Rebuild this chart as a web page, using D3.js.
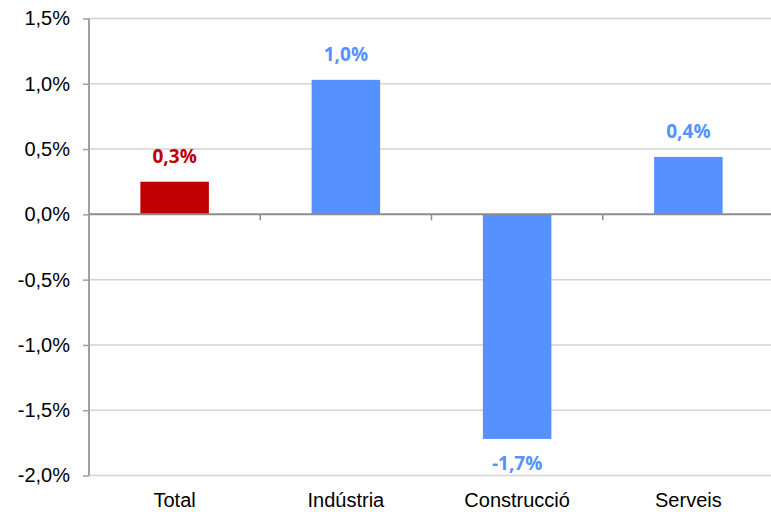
<!DOCTYPE html>
<html>
<head>
<meta charset="utf-8">
<script src="https://cdn.jsdelivr.net/npm/d3@7"></script>
<style>
  html, body { margin: 0; padding: 0; background: #ffffff; }
  svg { display: block; }
</style>
</head>
<body>
<svg id="chart" width="771" height="512"></svg>
<script>
// Variació per sectors (%)
const categories = ["Total", "Indústria", "Construcció", "Serveis"];
const values = [0.25, 1.03, -1.72, 0.44];
const barColors = ["#C00000", "#5591FF", "#5591FF", "#5591FF"];
const yTicks = [-2.0, -1.5, -1.0, -0.5, 0.0, 0.5, 1.0, 1.5];

const fmt = v => v.toFixed(1).replace(".", ",") + "%";

const svg = d3.select("#chart");

const x = d3.scaleBand()
  .domain(categories)
  .range([89, 774])
  .padding(0);

const y = d3.scaleLinear()
  .domain([-2.0, 1.5])
  .range([475.5, 18.5]);

const barW = x.bandwidth() * 0.4;

// horizontal gridlines
svg.append("g")
  .selectAll("line")
  .data(yTicks.filter(t => t !== 0))
  .join("line")
  .attr("x1", 89).attr("x2", 771)
  .attr("y1", d => y(d)).attr("y2", d => y(d))
  .attr("stroke", "#d3d3d3")
  .attr("stroke-width", 1.5);

// bars
svg.append("g")
  .selectAll("rect")
  .data(values)
  .join("rect")
  .attr("x", (d, i) => x(categories[i]) + (x.bandwidth() - barW) / 2)
  .attr("width", barW)
  .attr("y", d => y(Math.max(0, d)))
  .attr("height", d => Math.abs(y(d) - y(0)))
  .attr("fill", (d, i) => barColors[i]);

// y axis
const yAxis = d3.axisLeft(y)
  .tickValues(yTicks)
  .tickSize(6)
  .tickPadding(13)
  .tickFormat(fmt);

const gy = svg.append("g")
  .attr("transform", "translate(89,0)")
  .call(yAxis);
gy.select(".domain").attr("stroke", "#a0a0a0").attr("stroke-width", 2).attr("d", `M0,${y(1.5)}V${y(-2.0)}`);
gy.selectAll(".tick line").attr("stroke", "#a0a0a0").attr("stroke-width", 1.5);
gy.selectAll(".tick text")
  .attr("font-family", "'Liberation Sans', Arial, sans-serif")
  .attr("font-size", 20)
  .attr("fill", "#000");

// zero line with category separators
const xAxis = d3.axisBottom(x).tickSize(0).tickFormat(() => "");
const gx = svg.append("g")
  .attr("transform", `translate(0,${y(0)})`)
  .call(xAxis);
gx.select(".domain").attr("stroke", "#8c8c8c").attr("stroke-width", 2)
  .attr("d", `M89,0H771`);
gx.selectAll(".tick").remove();

svg.append("g")
  .selectAll("line")
  .data(categories.slice(1))
  .join("line")
  .attr("x1", d => x(d)).attr("x2", d => x(d))
  .attr("y1", y(0)).attr("y2", y(0) + 6)
  .attr("stroke", "#8c8c8c")
  .attr("stroke-width", 1.5);

// category labels
svg.append("g")
  .selectAll("text")
  .data(categories)
  .join("text")
  .attr("x", d => x(d) + x.bandwidth() / 2)
  .attr("y", 507)
  .attr("text-anchor", "middle")
  .attr("font-family", "'Liberation Sans', Arial, sans-serif")
  .attr("font-size", 20)
  .attr("fill", "#000")
  .text(d => d);

// value labels
svg.append("g")
  .selectAll("text")
  .data(values)
  .join("text")
  .attr("x", (d, i) => x(categories[i]) + x.bandwidth() / 2)
  .attr("y", d => d >= 0 ? y(d) - 19 : y(d) + 31)
  .attr("text-anchor", "middle")
  .attr("font-family", "'Open Sans', sans-serif")
  .attr("font-weight", 700)
  .attr("font-size", 19)
  .attr("fill", (d, i) => barColors[i])
  .text(d => fmt(d));
</script>
</body>
</html>
